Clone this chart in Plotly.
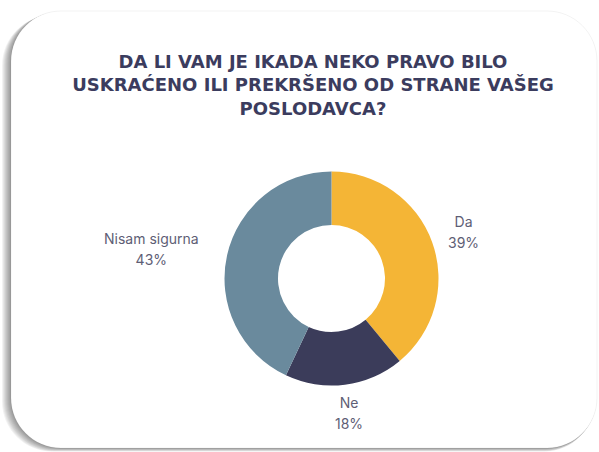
import math
import plotly.graph_objects as go

W, H = 599, 452

labels = ["Da", "Ne", "Nisam sigurna"]
values = [39, 18, 43]
colors = ["#F4B536", "#3B3C5A", "#6A8A9D"]
title_lines = ["DA LI VAM JE IKADA NEKO PRAVO BILO",
               "USKRAĆENO ILI PREKRŠENO OD STRANE VAŠEG",
               "POSLODAVCA?"]


def px(x):
    return x / W


def py(y):
    return 1 - y / H


def rrect(x0, y0, x1, y1, r):
    k = 0.5523 * r
    pts = [
        f"M {px(x0 + r)},{py(y0)}",
        f"L {px(x1 - r)},{py(y0)}",
        f"C {px(x1 - r + k)},{py(y0)} {px(x1)},{py(y0 + r - k)} {px(x1)},{py(y0 + r)}",
        f"L {px(x1)},{py(y1 - r)}",
        f"C {px(x1)},{py(y1 - r + k)} {px(x1 - r + k)},{py(y1)} {px(x1 - r)},{py(y1)}",
        f"L {px(x0 + r)},{py(y1)}",
        f"C {px(x0 + r - k)},{py(y1)} {px(x0)},{py(y1 - r + k)} {px(x0)},{py(y1 - r)}",
        f"L {px(x0)},{py(y0 + r)}",
        f"C {px(x0)},{py(y0 + r - k)} {px(x0 + r - k)},{py(y0)} {px(x0 + r)},{py(y0)}",
        "Z",
    ]
    return " ".join(pts)


shapes = []
# soft shadow (left / bottom)
for i in range(1, 10):
    shapes.append(dict(type="path", xref="paper", yref="paper", layer="below",
                       path=rrect(11 - i, 11 + i * 0.5, 597 - i * 0.3, 448 + i * 0.4, 50),
                       fillcolor="rgba(0,0,0,0.05)", line=dict(width=0)))
shapes.append(dict(type="path", xref="paper", yref="paper", layer="below",
                   path=rrect(11, 11, 597, 448, 50),
                   fillcolor="white", line=dict(color="rgba(0,0,0,0.05)", width=1)))

# pie geometry (pixels)
CX, CY, R = 331.5, 278.5, 107
fig = go.Figure(go.Pie(
    labels=labels, values=values, hole=0.5, sort=False, direction="clockwise",
    rotation=0,
    marker=dict(colors=colors, line=dict(width=0)),
    textinfo="none",
    domain=dict(x=[px(CX - R), px(CX + R)], y=[py(CY + R), py(CY - R)]),
    showlegend=False, hoverinfo="label+percent",
))

# outside labels at the mid-angle of each slice, derived from the values
total = sum(values)
annotations = []
cum = 0
GAP, HH, CW = 20, 9, 8.8
for lab, v in zip(labels, values):
    mid = (cum + v / 2) / total * 2 * math.pi
    cum += v
    s, c = math.sin(mid), math.cos(mid)
    pct = f"{round(v / total * 100)}%"
    hw = max(len(lab), len(pct)) * CW / 2
    ax = CX + (R + GAP) * s + hw * s
    ay = CY - (R + GAP) * c - HH * c
    annotations.append(dict(
        x=px(ax), y=py(ay), xref="paper", yref="paper", showarrow=False,
        xanchor="center", yanchor="middle", align="center",
        text=f"<span style='font-size:14px'>{lab}</span><br>"
             f"<span style='font-size:14px'>{pct}</span>",
        font=dict(family="Inter", size=16.5, color="#5E5E75"),
    ))

fig.update_layout(
    width=W, height=H,
    margin=dict(l=0, r=0, t=0, b=0),
    paper_bgcolor="white", plot_bgcolor="white",
    shapes=shapes, annotations=annotations,
    title=dict(text="<br>".join(title_lines), x=0.5225, xanchor="center",
               y=py(68), yanchor="top",
               font=dict(family="DejaVu Sans", size=18, color="#3B3C5E", weight="bold")),
)

fig.write_html("out.html", config={"displayModeBar": False},
               post_script="document.body.style.margin='0';")
